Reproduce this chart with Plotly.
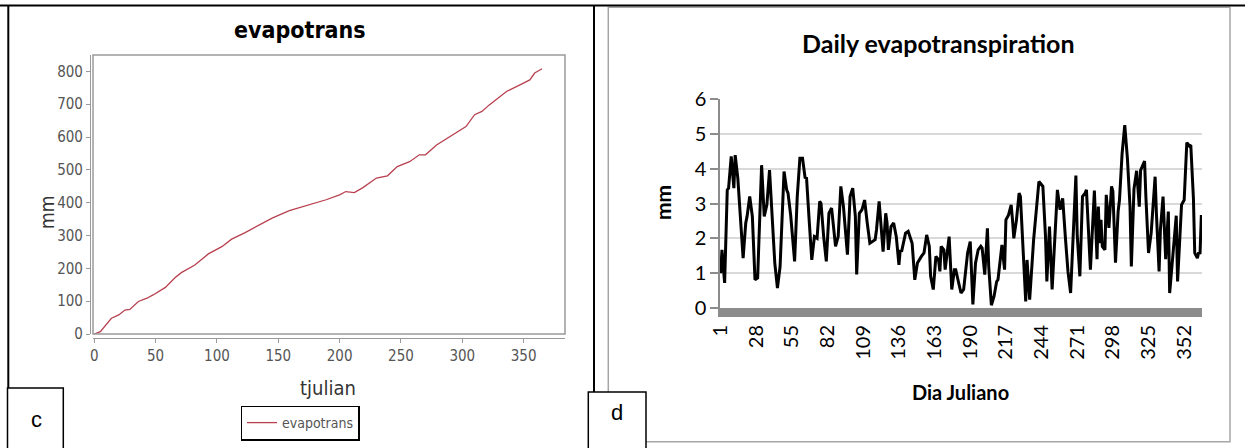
import plotly.graph_objects as go

W, H = 1245, 448

# ---------------- Data ----------------
# Panel c: cumulative evapotranspiration (mm) against julian day
cum_day = [0, 5, 14, 20, 25, 29, 36, 43, 48, 58, 66, 71, 82, 93, 104, 112, 123, 134,
           145, 159, 170, 178, 189, 200, 205, 212, 219, 230, 239, 247, 257, 265, 270,
           279, 295, 303, 310, 316, 322, 336, 347, 355, 359, 365]
cum_mm = [0, 7, 48, 58, 73, 75, 99, 109, 119, 142, 172, 187, 210, 244, 266, 289, 309, 330,
          353, 376, 388, 398, 409, 424, 434, 431, 446, 475, 482, 510, 525, 546, 546,
          576, 612, 632, 668, 678, 698, 739, 759, 774, 795, 808]
cum_xticks = [0, 50, 100, 150, 200, 250, 300, 350]
cum_yticks = [0, 100, 200, 300, 400, 500, 600, 700, 800]

# Panel d: daily evapotranspiration (mm) against julian day
daily_day = [1, 2, 4, 6, 7, 9, 11, 12, 14, 16,
             18, 20, 21, 23, 25, 27, 29, 30, 32, 34,
             36, 38, 40, 42, 44, 46, 49, 51, 52, 54,
             57, 59, 61, 63, 65, 66, 68, 70, 72, 74,
             76, 77, 79, 81, 83, 85, 88, 90, 92, 94,
             97, 99, 101, 103, 104, 106, 108, 110, 112, 114,
             118, 119, 121, 123, 124, 126, 127, 128, 130, 132,
             134, 136, 137, 138, 140, 141, 143, 146, 148, 150,
             153, 155, 157, 159, 160, 162, 164, 166, 167, 168,
             170, 171, 174, 176, 178, 179, 181, 183, 185, 188,
             190, 192, 194, 196, 198, 199, 201, 203, 204, 206,
             208, 210, 211, 214, 216, 217, 219, 221, 222, 223,
             225, 227, 228, 230, 232, 233, 235, 238, 240, 242,
             245, 247, 248, 250, 252, 254, 256, 258, 260, 262,
             264, 266, 268, 270, 271, 273, 275, 277, 278, 280,
             281, 284, 286, 287, 288, 289, 290, 292, 293, 295,
             297, 298, 300, 302, 303, 305, 307, 309, 311, 312,
             314, 316, 318, 319, 322, 323, 325, 327, 330, 331,
             333, 334, 336, 338, 340, 341, 344, 346, 347, 349,
             350, 352, 354, 356, 357, 359, 360, 362, 363, 364,
             365]
daily_mm = [1.0, 1.67, 0.72, 3.39, 3.44, 4.35, 3.44, 4.39, 3.72, 2.53,
            1.43, 2.44, 2.63, 3.2, 2.63, 0.81, 0.86, 1.96, 4.1, 2.63,
            2.96, 3.96, 2.63, 1.29, 0.57, 1.19, 3.92, 3.39, 3.3, 2.67,
            1.34, 3.2, 4.3, 4.3, 3.72, 3.75, 2.53, 1.38, 2.05, 2.0,
            3.06, 3.0, 2.05, 1.34, 2.72, 2.87, 1.77, 2.05, 3.49, 2.9,
            1.53, 3.2, 3.44, 2.63, 0.96, 2.72, 2.82, 3.1, 2.44, 1.86,
            1.96, 2.24, 3.06, 1.96, 1.62, 2.72, 2.44, 1.67, 2.34, 2.44,
            2.05, 1.24, 1.67, 1.62, 2.05, 2.15, 2.2, 1.86, 0.81, 1.29,
            1.48, 1.58, 2.1, 1.77, 0.91, 0.53, 1.48, 1.38, 1.05, 1.77,
            1.67, 1.1, 2.05, 0.53, 1.1, 1.1, 0.76, 0.43, 0.53, 1.58,
            1.91, 0.1, 1.29, 1.67, 1.77, 1.72, 0.96, 2.29, 1.19, 0.08,
            0.33, 0.76, 0.81, 1.81, 1.1, 2.53, 2.67, 2.96, 2.53, 2.0,
            2.53, 3.3, 3.2, 1.77, 0.19, 1.38, 0.24, 1.96, 2.82, 3.63,
            3.49, 2.05, 0.76, 2.34, 0.53, 2.15, 3.39, 2.82, 3.15, 2.05,
            1.05, 0.43, 1.96, 3.8, 2.1, 0.91, 3.2, 3.3, 3.39, 2.0,
            1.1, 3.37, 1.4, 2.91, 1.86, 2.53, 1.77, 1.67, 3.25, 2.3,
            3.49, 3.35, 1.3, 2.78, 3.1, 4.44, 5.25, 4.3, 2.9, 1.19,
            3.42, 3.94, 2.91, 3.95, 4.22, 3.2, 1.58, 2.15, 3.77, 2.7,
            1.05, 2.24, 3.2, 1.4, 2.77, 0.43, 1.85, 2.65, 0.76, 2.1,
            2.96, 3.1, 4.75, 4.65, 4.68, 3.15, 1.58, 1.43, 1.6, 1.55,
            2.67]
assert len(daily_day) == len(daily_mm)
daily_xticks = [1, 28, 55, 82, 109, 136, 163, 190, 217, 244, 271, 298, 325, 352]
daily_yticks = [0, 1, 2, 3, 4, 5, 6]


def PX(p):
    return p / W


def PY(p):
    return 1 - p / H


LFONT = "Liberation Sans Narrow, DejaVu Sans Condensed, Arial Narrow, sans-serif"
RFONT = "Lato, Carlito, Calibri, Open Sans, sans-serif"

fig = go.Figure()
fig.add_trace(go.Scatter(x=cum_day, y=cum_mm, mode="lines", name="evapotrans",
                         line=dict(color="#b8404f", width=1.3),
                         xaxis="x", yaxis="y"))
fig.add_trace(go.Scatter(x=daily_day, y=daily_mm, mode="lines", showlegend=False,
                         line=dict(color="black", width=3),
                         xaxis="x2", yaxis="y2"))

gray = "#9a9a9a"
fig.update_layout(
    width=W, height=H,
    margin=dict(l=0, r=0, t=0, b=0, pad=0, autoexpand=False),
    paper_bgcolor="white", plot_bgcolor="white",
    xaxis=dict(domain=[PX(93), PX(565)], range=[-1, 383.7], anchor="free",
               position=PY(337.5), showline=True, linecolor=gray, linewidth=1.2,
               ticks="outside", ticklen=4, tickcolor=gray, tickvals=cum_xticks,
               showgrid=False, zeroline=False, automargin=False,
               tickfont=dict(family=LFONT, size=15, color="#555")),
    yaxis=dict(domain=[PY(334), PY(55)], range=[0, 850], anchor="free",
               position=PX(90), showline=True, linecolor=gray, linewidth=1.2,
               ticks="outside", ticklen=4, tickcolor=gray, tickvals=cum_yticks,
               showgrid=False, zeroline=False, automargin=False,
               tickfont=dict(family=LFONT, size=15, color="#555")),
    xaxis2=dict(domain=[PX(720), PX(1202)], range=[0.5, 365.5], anchor="y2",
                showline=True, linecolor="#8c8c8c", linewidth=9,
                ticks="", tickvals=daily_xticks, tickangle=-90,
                showgrid=False, zeroline=False, automargin=False,
                tickfont=dict(family=RFONT, size=20, color="black")),
    yaxis2=dict(domain=[PY(308), PY(99)], range=[0, 6], anchor="x2",
                showline=True, linecolor="#8c8c8c", linewidth=1.5,
                ticks="outside", ticklen=8, tickcolor="#8c8c8c", tickwidth=1.5,
                tickvals=daily_yticks, showgrid=True, gridcolor="#d9d9d9",
                gridwidth=1.5, zeroline=False, automargin=False,
                tickfont=dict(family=RFONT, size=20, color="black")),
    legend=dict(x=PX(300), y=PY(423), xanchor="center", yanchor="middle",
                bgcolor="white", bordercolor="black", borderwidth=1.5,
                font=dict(family=LFONT, size=14, color="#555"), itemwidth=30),
    showlegend=True,
)

shapes = [
    # plot outline of panel c
    dict(type="rect", xref="x domain", yref="y domain", x0=0, x1=1, y0=0, y1=1,
         line=dict(color=gray, width=1.5)),
    # chart area border of panel d
    dict(type="rect", xref="paper", yref="paper", x0=PX(608.3), x1=PX(1230),
         y0=PY(441.7), y1=PY(7.3), line=dict(color="#a6a6a6", width=1.5)),
    # outer frame lines
    dict(type="line", xref="paper", yref="paper", x0=0, x1=1, y0=PY(5.5), y1=PY(5.5),
         line=dict(color="black", width=2)),
    dict(type="line", xref="paper", yref="paper", x0=PX(8.3), x1=PX(8.3), y0=PY(5), y1=0,
         line=dict(color="black", width=2)),
    dict(type="line", xref="paper", yref="paper", x0=PX(594), x1=PX(594), y0=PY(5), y1=PY(392),
         line=dict(color="black", width=2)),
    # panel label boxes
    dict(type="rect", xref="paper", yref="paper", x0=PX(7.5), x1=PX(63.3), y0=-0.01, y1=PY(388),
         line=dict(color="black", width=1.5), fillcolor="white"),
    dict(type="rect", xref="paper", yref="paper", x0=PX(588.3), x1=PX(646), y0=-0.01, y1=PY(392),
         line=dict(color="black", width=1.5), fillcolor="white"),
]
fig.update_layout(shapes=shapes)

ann = [
    dict(text="<b>evapotrans</b>", x=PX(300), y=PY(30),
         font=dict(family=LFONT, size=23, color="black")),
    dict(text="mm", x=PX(47), y=PY(213), textangle=-90,
         font=dict(family=LFONT, size=19, color="#333")),
    dict(text="tjulian", x=PX(328), y=PY(388),
         font=dict(family=LFONT, size=20, color="#333")),
    dict(text="<b>Daily evapotranspiration</b>", x=PX(938), y=PY(43),
         font=dict(family=RFONT, size=25, color="black")),
    dict(text="<b>mm</b>", x=PX(662), y=PY(203), textangle=-90,
         font=dict(family=RFONT, size=21, color="black")),
    dict(text="<b>Dia Juliano</b>", x=PX(960), y=PY(392),
         font=dict(family=RFONT, size=20, color="black")),
    dict(text="c", x=PX(36), y=PY(419),
         font=dict(family="Liberation Sans, Arial, sans-serif", size=22, color="black")),
    dict(text="d", x=PX(617), y=PY(412),
         font=dict(family="Liberation Sans, Arial, sans-serif", size=22, color="black")),
]
for a in ann:
    a.update(xref="paper", yref="paper", showarrow=False, xanchor="center", yanchor="middle")
fig.update_layout(annotations=ann)

fig.write_html(
    "out.html",
    post_script="document.body.style.margin='0';document.body.style.padding='0';"
                "document.documentElement.style.overflow='hidden';",
)
